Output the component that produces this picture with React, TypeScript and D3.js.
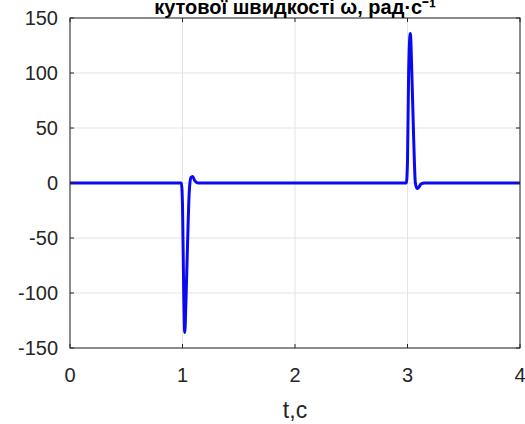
import React from 'react';
import * as d3 from 'd3';

// time, s
const tValues = [0, 0.99, 1.0, 1.01, 1.02, 1.03, 1.045, 1.06, 1.075, 1.09, 1.11, 1.14, 2.99, 3.0, 3.01, 3.025, 3.04, 3.055, 3.07, 3.085, 3.1, 3.12, 3.15, 4];
const omegaValues = [0, 0, -20, -95, -136, -110, -55, -8, 5, 6, 2, 0, 0, 20, 100, 136, 95, 40, 0, -5, -4, -1, 0, 0];
const xTicks = [0, 1, 2, 3, 4];
const yTicks = [-150, -100, -50, 0, 50, 100, 150];

const W = 525, H = 424;
const margin = { left: 70, right: 5, top: 18, bottom: 76 };

export default function App() {
  const x = d3.scaleLinear().domain([0, 4]).range([margin.left, W - margin.right]);
  const y = d3.scaleLinear().domain([-150, 150]).range([H - margin.bottom, margin.top]);
  const pts = tValues.map((t, i) => [t, omegaValues[i]] as [number, number]);
  const line = d3.line<[number, number]>().x(d => x(d[0])).y(d => y(d[1])).curve(d3.curveMonotoneX);

  const x0 = x(0), x1 = x(4), y0 = y(-150), y1 = y(150);
  const font = 'Liberation Sans, Arial, sans-serif';

  return (
    <svg width={W} height={H} style={{ position: 'absolute', left: 0, top: 0, background: '#fff' }}>
      <rect x={0} y={0} width={W} height={H} fill="#fff" />
      {/* grid */}
      {xTicks.map(t => (
        <line key={'gx' + t} x1={x(t)} x2={x(t)} y1={y1} y2={y0} stroke="#e3e3e3" strokeWidth={1} />
      ))}
      {yTicks.map(t => (
        <line key={'gy' + t} x1={x0} x2={x1} y1={y(t)} y2={y(t)} stroke="#e3e3e3" strokeWidth={1} />
      ))}
      <path d={line(pts) || ''} fill="none" stroke="#0a0af0" strokeWidth={3} strokeLinejoin="round" />
      {/* box */}
      <rect x={x0} y={y1} width={x1 - x0} height={y0 - y1} fill="none" stroke="#262626" strokeWidth={1} />
      {xTicks.map(t => (
        <g key={'tx' + t}>
          <line x1={x(t)} x2={x(t)} y1={y0} y2={y0 - 4} stroke="#262626" />
          <line x1={x(t)} x2={x(t)} y1={y1} y2={y1 + 4} stroke="#262626" />
          <text x={x(t)} y={382} textAnchor="middle" fontSize={20} fill="#262626" fontFamily={font}>{t}</text>
        </g>
      ))}
      {yTicks.map(t => (
        <g key={'ty' + t}>
          <line x1={x0} x2={x0 + 4} y1={y(t)} y2={y(t)} stroke="#262626" />
          <line x1={x1} x2={x1 - 4} y1={y(t)} y2={y(t)} stroke="#262626" />
          <text x={58} y={y(t) + 7} textAnchor="end" fontSize={20} fill="#262626" fontFamily={font}>{t}</text>
        </g>
      ))}
      <text x={(x0 + x1) / 2} y={418} textAnchor="middle" fontSize={23} fill="#262626" fontFamily={font}>t,c</text>
      <text x={(x0 + x1) / 2} y={14} textAnchor="middle" fontSize={20} fontWeight="bold" fill="#000" fontFamily={font}>кутової швидкості ω, рад·с⁻¹</text>
    </svg>
  );
}
